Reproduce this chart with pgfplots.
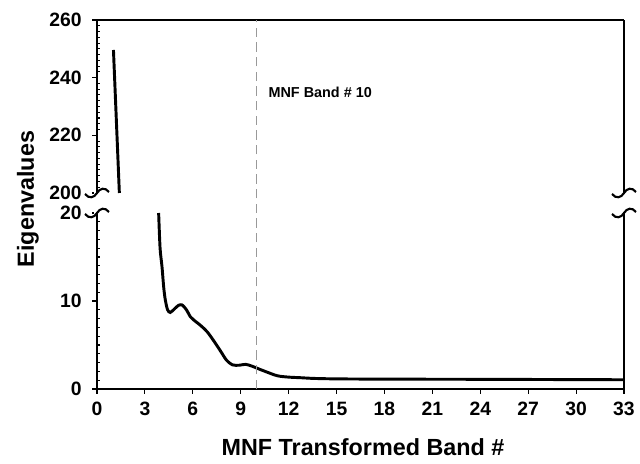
\documentclass[border=0pt]{standalone}
\usepackage{fontspec}
\setmainfont{Liberation Sans}
\usepackage{pgfplots}
\pgfplotsset{compat=1.18}

\pgfplotsset{
  brk/.style={
    scale only axis, anchor=south west,
    width=395.25pt, xmin=0, xmax=33,
    axis line style={line width=1.2pt},
    tick style={line width=0.8pt, black},
    tick align=inside,
    major tick length=-4pt, minor tick length=2.5pt,
    ytick pos=left,
    yticklabel shift=8pt, xticklabel shift=6pt,
    ticklabel style={font=\fontsize{14.5}{14.5}\selectfont\bfseries},
    /pgf/number format/assume math mode=true,
    clip=false,
  },
  rtick/.style={
    scale only axis, anchor=south west,
    width=395.25pt, xmin=0, xmax=33,
    hide x axis, axis y line*=right,
    axis line style={draw=none},
    tick style={line width=0.8pt, black},
    tick align=inside, minor tick length=2.5pt,
    ytick=\empty, yticklabels={},
  },
}

\begin{document}
\begin{tikzpicture}[x=0.75pt, y=0.75pt]
\useasboundingbox (0pt,0pt) rectangle (480pt,348pt);

% lower part 0-20
\begin{axis}[brk, at={(72.75pt,56.25pt)}, height=132pt,
  ymin=0, ymax=20, ytick={0,10,20}, minor y tick num=9,
  xtick={0,3,...,33},
  axis x line*=bottom, axis y line*=box]
\addplot[black, line width=2.2pt, smooth] coordinates {
  (3.86,20) (3.95,16) (4.07,13.9) (4.18,11.5) (4.28,10.1) (4.42,9.0)
  (4.59,8.7) (4.85,9.1) (5.1,9.5) (5.33,9.55) (5.6,9.0) (5.85,8.2)
  (6.06,7.84) (6.5,7.2) (6.9,6.5) (7.3,5.5) (7.74,4.3) (8.1,3.3)
  (8.47,2.75) (8.9,2.7) (9.31,2.8) (9.7,2.6) (10.04,2.35) (10.6,1.95)
  (11.3,1.5) (12.0,1.35) (12.77,1.28) (13.6,1.2) (15,1.15) (18,1.12)
  (24,1.1) (33,1.05)};
\coordinate (d0) at (axis cs:10,0);
\end{axis}
\begin{axis}[rtick, at={(72.75pt,56.25pt)}, height=132pt,
  ymin=0, ymax=20, minor ytick={1,...,19}]
\end{axis}

% upper part 200-260
\begin{axis}[brk, at={(72.75pt,203.25pt)}, height=129.75pt,
  ymin=200, ymax=260, ytick={200,220,240,260}, minor y tick num=9,
  xtick=\empty,
  axis x line*=top, axis y line*=box]
\addplot[black, line width=2.2pt] coordinates {(1.03,249.6) (1.4,200)};
\coordinate (d1) at (axis cs:10,260);
\node[anchor=west, font=\fontsize{10.8}{10.8}\selectfont\bfseries]
  at (axis cs:10.45,235) {MNF Band \# 10};
\end{axis}
\begin{axis}[rtick, at={(72.75pt,203.25pt)}, height=129.75pt,
  ymin=200, ymax=260, minor ytick={202,204,...,258}]
\end{axis}

\draw[gray!80, line width=0.9pt, dash pattern=on 7pt off 4pt] (d0) -- (d1);

% axis break marks
\foreach \bx in {97,624} {
  \foreach \by in {271,251} {
    \fill[white] (\bx-3,\by-1) rectangle (\bx+3,\by+1);
    \draw[black, line width=1.6pt]
      (\bx-12,\by-1) .. controls (\bx-8,\by-6) and (\bx-3,\by-5) .. (\bx,\by)
      .. controls (\bx+3,\by+5) and (\bx+8,\by+6) .. (\bx+12,\by+1);
  }
}

\node[rotate=90, font=\fontsize{17.5}{17.5}\selectfont\bfseries]
  at (28,265) {Eigenvalues};
\node[font=\fontsize{17.5}{17.5}\selectfont\bfseries]
  at (363,17) {MNF Transformed Band \#};
\end{tikzpicture}
\end{document}
